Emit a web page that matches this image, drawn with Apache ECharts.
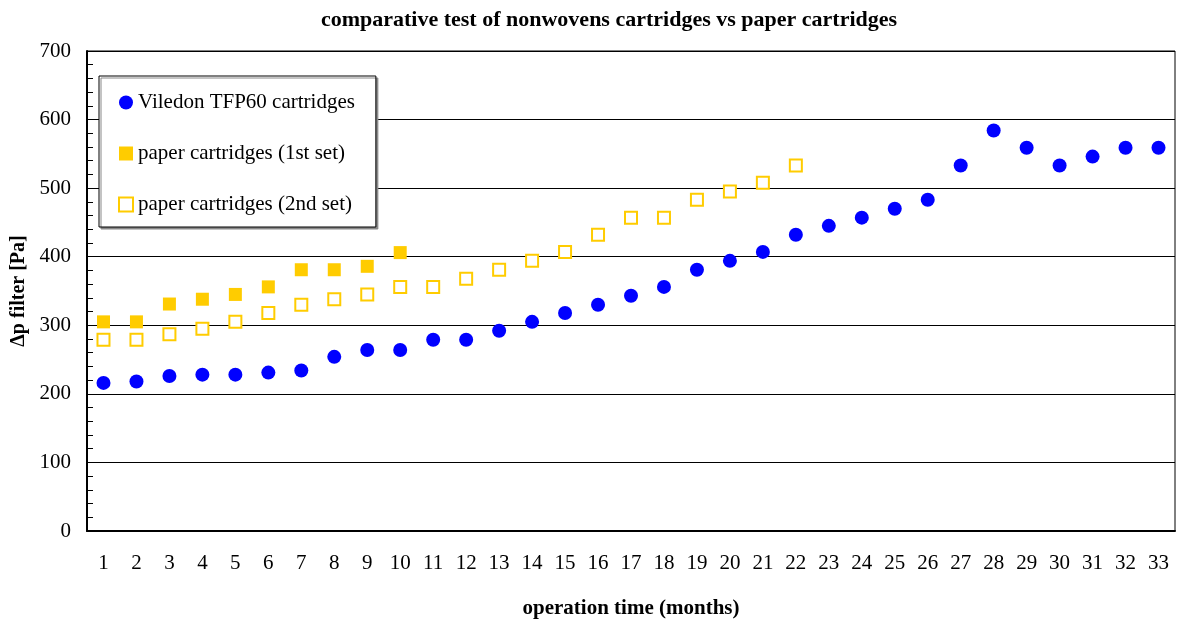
<!DOCTYPE html>
<html>
<head>
<meta charset="utf-8">
<script src="https://cdn.jsdelivr.net/npm/echarts@6/dist/echarts.min.js"></script>
<style>html,body{margin:0;padding:0;background:#fff}#c{width:1178px;height:621px}</style>
</head>
<body>
<div id="c"></div>
<script>
const months = ['1','2','3','4','5','6','7','8','9','10','11','12','13','14','15','16','17','18','19','20','21','22','23','24','25','26','27','28','29','30','31','32','33'];
const viledon = [216,218,226,228,228,231,234,254,264,264,279,279,292,305,318,330,343,356,381,394,407,432,445,457,470,483,533,584,559,533,546,559,559];
const paper1 = [305,305,331,338,345,356,381,381,386,406];
const paper2 = [279,279,287,295,305,318,330,338,345,356,356,368,381,394,407,432,457,457,483,495,508,533];
const yTicks = [0,100,200,300,400,500,600,700];

const serif = '"Liberation Serif","Times New Roman",serif';
const chart = echarts.init(document.getElementById('c'));
chart.setOption({
  animation: false,
  backgroundColor: '#fff',
  title: {
    text: 'comparative test of nonwovens cartridges vs paper cartridges',
    left: 604, top: 4, textAlign: 'center',
    textStyle: {fontFamily: serif, fontWeight: 'bold', fontSize: 22, color: '#000'}
  },
  legend: {
    orient: 'vertical', left: 99, top: 76,
    backgroundColor: '#fff', borderColor: '#000', borderWidth: 1,
    shadowColor: '#888', shadowOffsetX: 2, shadowOffsetY: 2, shadowBlur: 0,
    padding: [16, 21, 12, 19], itemGap: 30, itemWidth: 14, itemHeight: 14,
    textStyle: {fontFamily: serif, fontSize: 21, color: '#000'},
    data: [
      {name: 'Viledon TFP60 cartridges', icon: 'circle'},
      {name: 'paper cartridges (1st set)', icon: 'rect'},
      {name: 'paper cartridges (2nd set)', icon: 'rect'}
    ]
  },
  grid: {left: 87, right: 3, top: 51, bottom: 90, outerBoundsMode: 'none', containLabel: false,
    show: true, borderColor: '#000', borderWidth: 1, backgroundColor: 'transparent'},
  xAxis: {
    type: 'category', data: months, boundaryGap: true,
    name: 'operation time (months)', nameLocation: 'middle', nameGap: 67,
    nameTextStyle: {fontFamily: serif, fontWeight: 'bold', fontSize: 21, color: '#000'},
    axisLine: {lineStyle: {color: '#000', width: 2}},
    axisTick: {inside: true, length: 6, lineStyle: {color: '#000'}, interval: 0},
    axisLabel: {interval: 0, margin: 22, fontFamily: serif, fontSize: 21, color: '#000'},
    splitLine: {show: false}
  },
  yAxis: {
    type: 'value', min: 0, max: 700, interval: 100,
    name: 'Δp filter [Pa]', nameLocation: 'middle', nameGap: 52, nameRotate: 90,
    nameTextStyle: {fontFamily: serif, fontWeight: 'bold', fontSize: 20, color: '#000'},
    axisLine: {show: true, lineStyle: {color: '#000', width: 2}},
    axisTick: {show: true, inside: true, length: 6, lineStyle: {color: '#000'}},
    minorTick: {show: true, splitNumber: 5, length: 6, lineStyle: {color: '#000'}},
    axisLabel: {margin: 16, fontFamily: serif, fontSize: 21, color: '#000',
      formatter: v => yTicks.includes(v) ? String(v) : ''},
    splitLine: {show: true, lineStyle: {color: '#000', width: 1}}
  },
  series: [
    {name: 'Viledon TFP60 cartridges', type: 'scatter', data: viledon,
     symbol: 'circle', symbolSize: 14, itemStyle: {color: '#0000FF', opacity: 1}},
    {name: 'paper cartridges (1st set)', type: 'scatter', data: paper1,
     symbol: 'rect', symbolSize: 13, itemStyle: {color: '#FFCC00', opacity: 1}},
    {name: 'paper cartridges (2nd set)', type: 'scatter', data: paper2,
     symbol: 'rect', symbolSize: 12,
     itemStyle: {color: '#FFFFFF', borderColor: '#FFCC00', borderWidth: 2, opacity: 1}}
  ]
});
</script>
</body>
</html>
